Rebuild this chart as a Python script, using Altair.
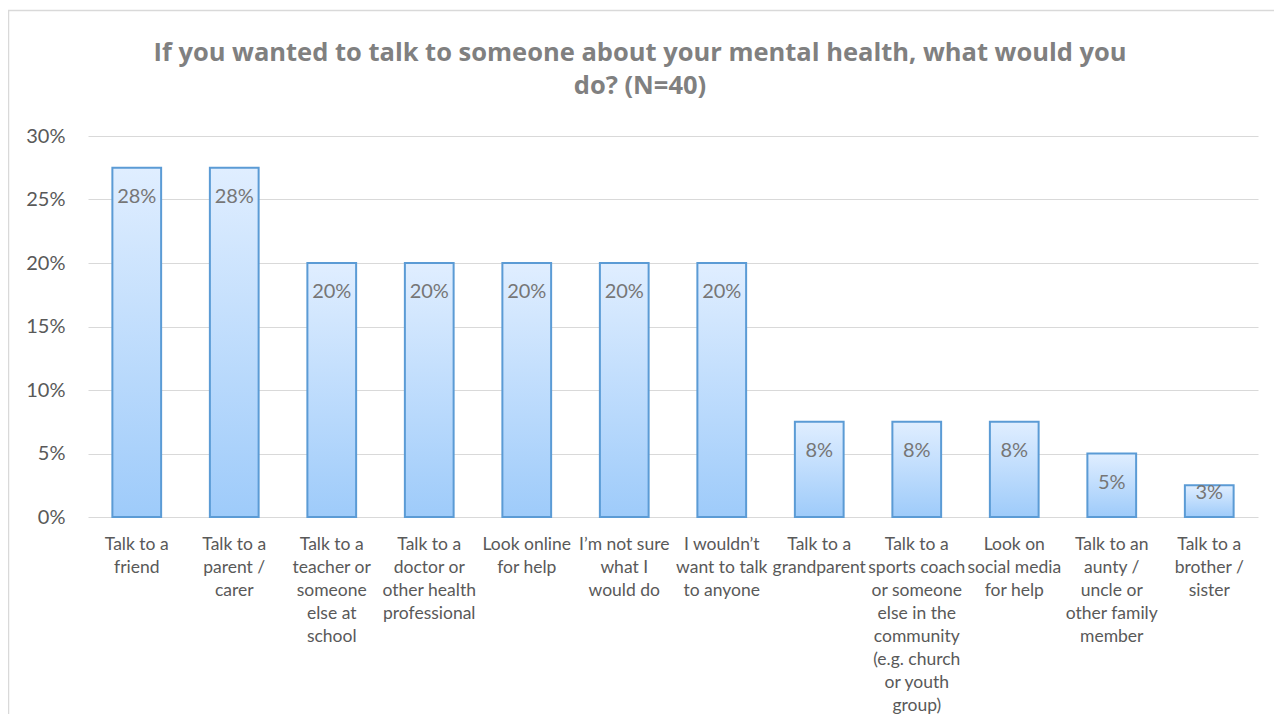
import altair as alt
import pandas as pd

categories = [
    "Talk to a|friend",
    "Talk to a|parent /|carer",
    "Talk to a|teacher or|someone|else at|school",
    "Talk to a|doctor or|other health|professional",
    "Look online|for help",
    "I\u2019m not sure|what I|would do",
    "I wouldn\u2019t|want to talk|to anyone",
    "Talk to a|grandparent",
    "Talk to a|sports coach|or someone|else in the|community|(e.g. church|or youth|group)",
    "Look on|social media|for help",
    "Talk to an|aunty /|uncle or|other family|member",
    "Talk to a|brother /|sister",
]
values = [27.5, 27.5, 20, 20, 20, 20, 20, 7.5, 7.5, 7.5, 5, 2.5]
labels = ["28%", "28%", "20%", "20%", "20%", "20%", "20%", "8%", "8%", "8%", "5%", "3%"]
y_ticks = [0, 5, 10, 15, 20, 25, 30]
title_lines = [
    "If you wanted to talk to someone about your mental health, what would you",
    "do? (N=40)",
]

df = pd.DataFrame({"cat": categories, "v": values, "lab": labels})

FONT = "Lato"
GRAY = "#595959"

x_enc = alt.X(
    "cat:N",
    sort=None,
    scale=alt.Scale(paddingInner=0.5, paddingOuter=0.25),
    axis=alt.Axis(
        title=None,
        labelAngle=0,
        labelExpr="split(datum.label, '|')",
        labelFont=FONT,
        labelFontSize=17.5,
        labelColor=GRAY,
        labelLineHeight=23,
        labelPadding=18,
        labelBaseline="top",
        labelLimit=300,
        ticks=False,
        domain=False,
        grid=False,
    ),
)
y_enc = alt.Y(
    "v:Q",
    scale=alt.Scale(domain=[0, 30], nice=False),
    axis=alt.Axis(
        title=None,
        values=y_ticks,
        labelExpr="datum.value + '%'",
        labelFont=FONT,
        labelFontSize=20,
        labelColor=GRAY,
        labelPadding=23,
        ticks=False,
        domain=False,
        gridColor="#D9D9D9",
        gridWidth=1.2,
    ),
)

base = alt.Chart(df)

bars = base.mark_bar(
    color=alt.Gradient(
        gradient="linear",
        stops=[
            alt.GradientStop(color="#E0EEFF", offset=0),
            alt.GradientStop(color="#9ECBFA", offset=1),
        ],
        x1=1, x2=1, y1=0, y2=1,
    ),
    stroke="#5B9BD5",
    strokeWidth=2,
).encode(x=x_enc, y=y_enc)

texts = base.transform_calculate(
    ly="max(datum.v - 2.3, 1.9)"
).mark_text(
    font=FONT, fontSize=20, color="#767676", baseline="middle"
).encode(x=alt.X("cat:N", sort=None), y=alt.Y("ly:Q"), text="lab:N")

frame = alt.Chart(pd.DataFrame({"a": [0]})).mark_rect(
    fill=None, stroke="#D9D9D9", strokeWidth=1.5
).encode(
    x=alt.value(-79.5), x2=alt.value(1300), y=alt.value(-125.5), y2=alt.value(700)
)

title = alt.Chart(pd.DataFrame({"t": ["\n".join(title_lines)]})).mark_text(
    font="Open Sans", fontSize=25.5, fontWeight="bold", color="#808080",
    lineBreak="\n", lineHeight=33, align="center", baseline="middle",
).encode(x=alt.value(552), y=alt.value(-83), text="t:N")

chart = alt.layer(frame, title, bars, texts).properties(
    width=1170,
    height=381,
    padding={"left": 80, "top": 128, "right": 16, "bottom": 197},
    autosize=alt.AutoSizeParams(type="none"),
).configure_view(stroke=None)

chart.save("out.html", embed_options={"renderer": "svg", "actions": False})
